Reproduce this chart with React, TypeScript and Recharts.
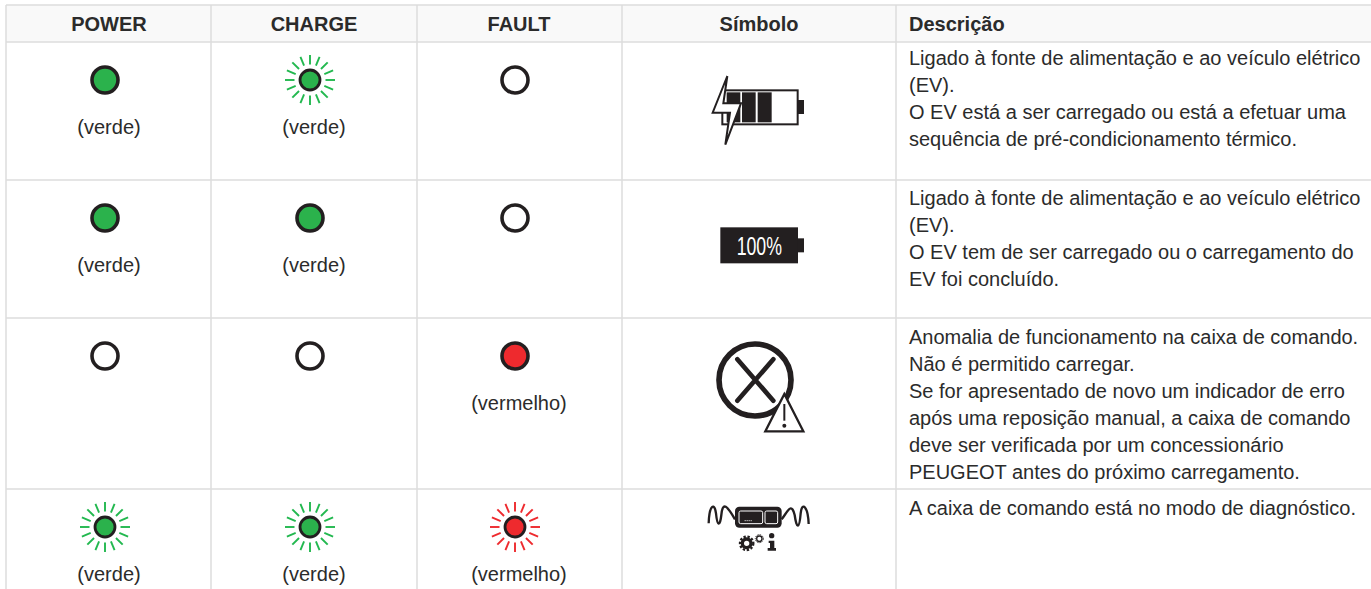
import React from "react";
import { ScatterChart, Scatter, XAxis, YAxis, ReferenceLine, ReferenceArea } from "recharts";

const columnTitles = ["POWER", "CHARGE", "FAULT", "Símbolo", "Descrição"];
const powerStates = ["on", "on", "off", "blink"];
const chargeStates = ["blink", "on", "off", "blink"];
const faultStates = ["off", "off", "on", "blink"];
const powerLabels = ["(verde)", "(verde)", "", "(verde)"];
const chargeLabels = ["(verde)", "(verde)", "", "(verde)"];
const faultLabels = ["", "", "(vermelho)", "(vermelho)"];
const symbolNames = ["charging", "full", "fault", "diagnostic"];
const descriptions = [
  ["Ligado à fonte de alimentação e ao veículo elétrico", "(EV).", "O EV está a ser carregado ou está a efetuar uma", "sequência de pré-condicionamento térmico."],
  ["Ligado à fonte de alimentação e ao veículo elétrico", "(EV).", "O EV tem de ser carregado ou o carregamento do", "EV foi concluído."],
  ["Anomalia de funcionamento na caixa de comando.", "Não é permitido carregar.", "Se for apresentado de novo um indicador de erro", "após uma reposição manual, a caixa de comando", "deve ser verificada por um concessionário", "PEUGEOT antes do próximo carregamento."],
  ["A caixa de comando está no modo de diagnóstico."],
];

const W = 1371, H = 589;
const FONT = "'Liberation Sans', Arial, sans-serif";
const INK = "#231f20";
const TEXT = "#2b2b2b";
const RULE = "#dcdcdc";
const colEdges = [6, 211, 417, 622, 896];
const rowEdges = [5, 42, 180, 318, 489];
const lampX = [105, 310, 515];
const labelX = [109, 314, 519];
const headerX = [109, 314, 519, 759, 909];
const lampOffset = 38;
const labelOffset = 85;
const descOffset = [16, 18, 19, 19];
const lineStep = 26.9;
const iconOrigin = [[680, 50], [680, 190], [680, 330], [680, 480]];

const lampData = [powerStates, chargeStates, faultStates].flatMap((states, c) =>
  states.map((state, r) => ({ x: lampX[c], y: rowEdges[r + 1] + lampOffset, state, red: c === 2 })));
const labelData = [powerLabels, chargeLabels, faultLabels].flatMap((labels, c) =>
  labels.map((text, r) => ({ x: labelX[c], y: rowEdges[r + 1] + labelOffset, text, anchor: "middle" })).filter((d) => d.text));
const headerData = columnTitles.map((text, c) => ({ x: headerX[c], y: 23.5, text, anchor: c === 4 ? "start" : "middle", bold: true }));
const descData = descriptions.flatMap((lines, r) =>
  lines.map((text, i) => ({ x: 909, y: rowEdges[r + 1] + descOffset[r] + i * lineStep, text, anchor: "start" })));
const iconData = symbolNames.map((name, r) => ({ x: iconOrigin[r][0], y: iconOrigin[r][1], name }));

const Lamp = ({ cx, cy, payload }: any) => {
  const fill = payload.red ? "#ee2a2e" : "#2bb24c";
  const ray = payload.red ? "#ee2a2e" : "#22b84f";
  if (payload.state === "off") return <circle cx={cx} cy={cy} r={13} fill="#fff" stroke={INK} strokeWidth={3.6} />;
  if (payload.state === "on") return <circle cx={cx} cy={cy} r={13} fill={fill} stroke={INK} strokeWidth={3.6} />;
  const rays = Array.from({ length: 16 }, (_, i) => (i * Math.PI) / 8);
  return (
    <g>
      {rays.map((a, i) => (
        <line key={i} x1={cx + 15.5 * Math.cos(a)} y1={cy + 15.5 * Math.sin(a)} x2={cx + 25 * Math.cos(a)} y2={cy + 25 * Math.sin(a)} stroke={ray} strokeWidth={1.9} />
      ))}
      <circle cx={cx} cy={cy} r={10} fill={fill} stroke={INK} strokeWidth={2.8} />
    </g>
  );
};

const Label = ({ cx, cy, payload }: any) => (
  <text x={cx} y={cy} textAnchor={payload.anchor} dominantBaseline="central" fontFamily={FONT}
    fontSize={20} fontWeight={payload.bold ? 700 : 400} fill={TEXT}>{payload.text}</text>
);

const Icon = ({ cx, cy, payload }: any) => {
  const t = `translate(${cx},${cy}) scale(${1 / 3})`;
  if (payload.name === "charging") return (
    <g transform={t}>
      <rect x={127} y={121} width={226} height={102} fill="#fff" stroke={INK} strokeWidth={6} />
      <rect x={353} y={150} width={19} height={42} fill={INK} />
      <rect x={140} y={127} width={41} height={90} fill={INK} />
      <rect x={186} y={127} width={41} height={90} fill={INK} />
      <rect x={233} y={127} width={42} height={90} fill={INK} />
      <path d="M142 78 L98 188 L150 188 L136 284 L183 160 L130 160 Z" fill="#fff" stroke={INK} strokeWidth={6} strokeLinejoin="miter" />
    </g>
  );
  if (payload.name === "full") return (
    <g transform={t}>
      <rect x={121} y={112} width={233} height={108} fill={INK} />
      <rect x={353} y={145} width={19} height={42} fill={INK} />
      <text x={238} y={196} textAnchor="middle" fontFamily="'Liberation Sans Narrow', 'Liberation Sans', sans-serif" fontSize={80} fill="#fff" textLength={136} lengthAdjust="spacingAndGlyphs">100%</text>
    </g>
  );
  if (payload.name === "fault") return (
    <g transform={t}>
      <circle cx={225} cy={150} r={108} fill="#fff" stroke={INK} strokeWidth={17} />
      <path d="M172 88 L280 212 M280 88 L172 212" stroke={INK} strokeWidth={14} strokeLinecap="round" />
      <path d="M313 192 L256 304 L370 304 Z" fill="#fff" stroke={INK} strokeWidth={7} />
      <path d="M313 222 L313 272" stroke={INK} strokeWidth={6} />
      <circle cx={313} cy={287} r={6} fill={INK} />
    </g>
  );
  return (
    <g transform={t}>
      <path d="M86 130 C88 72 104 68 108 100 C112 140 120 140 124 105 C128 62 142 78 165 118" fill="none" stroke={INK} strokeWidth={7} />
      <path d="M305 118 C322 96 334 64 344 105 C350 148 358 148 362 100 C366 62 384 80 386 132" fill="none" stroke={INK} strokeWidth={7} />
      <rect x={165} y={80} width={140} height={63} rx={13} fill={INK} />
      <rect x={177} y={93} width={71} height={38} rx={5} fill={INK} stroke="#fff" strokeWidth={3} />
      <rect x={255} y={93} width={38} height={38} rx={5} fill={INK} stroke="#fff" strokeWidth={3} />
      <path d="M194 122 H218" stroke="#fff" strokeWidth={3} strokeDasharray="3 3" />
      <circle cx={200} cy={190} r={13} fill="#fff" stroke={INK} strokeWidth={10} />
      <circle cx={200} cy={190} r={20} fill="none" stroke={INK} strokeWidth={7} strokeDasharray="7 5" />
      <circle cx={238} cy={176} r={8} fill="#fff" stroke={INK} strokeWidth={4} />
      <circle cx={238} cy={176} r={12} fill="none" stroke={INK} strokeWidth={3} strokeDasharray="4 3" />
      <circle cx={275} cy={167} r={8} fill={INK} />
      <path d="M266 182 H283 V204 H288 V212 H263 V204 H270 V189 H266 Z" fill={INK} />
    </g>
  );
};

export default function App() {
  return (
    <div style={{ position: "absolute", left: 0, top: 0, width: W, height: H, background: "#fff" }}>
      <ScatterChart width={W} height={H} margin={{ top: 0, right: 0, bottom: 0, left: 0 }}>
        <XAxis type="number" dataKey="x" domain={[0, W]} hide />
        <YAxis type="number" dataKey="y" domain={[0, H]} reversed hide />
        <ReferenceArea x1={colEdges[0]} x2={W} y1={rowEdges[0]} y2={rowEdges[1]} fill="#f9f9f9" fillOpacity={1} stroke="none" />
        {colEdges.map((x) => (
          <ReferenceLine key={x} segment={[{ x, y: rowEdges[0] }, { x, y: H }]} stroke={RULE} strokeWidth={1.5} />
        ))}
        {rowEdges.map((y) => (
          <ReferenceLine key={y} segment={[{ x: colEdges[0], y }, { x: W, y }]} stroke={RULE} strokeWidth={1.5} />
        ))}
        <Scatter data={lampData} shape={Lamp} isAnimationActive={false} />
        <Scatter data={labelData} shape={Label} isAnimationActive={false} />
        <Scatter data={headerData} shape={Label} isAnimationActive={false} />
        <Scatter data={descData} shape={Label} isAnimationActive={false} />
        <Scatter data={iconData} shape={Icon} isAnimationActive={false} />
      </ScatterChart>
    </div>
  );
}
